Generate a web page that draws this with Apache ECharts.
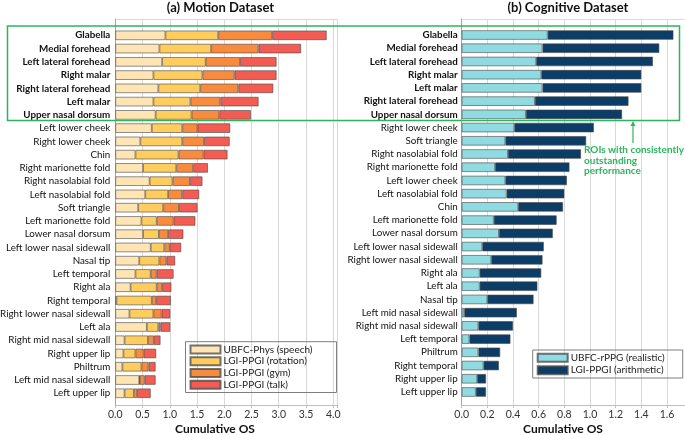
<!DOCTYPE html>
<html>
<head>
<meta charset="utf-8">
<script src="https://cdn.jsdelivr.net/npm/echarts@6/dist/echarts.min.js"></script>
<style>
html,body{margin:0;padding:0;background:#fff;}
#chart{width:685px;height:435px;}
</style>
</head>
<body>
<div id="chart"></div>
<script>
// ---- Data ----
const motionCategories = ["Glabella","Medial forehead","Left lateral forehead","Right malar","Right lateral forehead","Left malar","Upper nasal dorsum","Left lower cheek","Right lower cheek","Chin","Right marionette fold","Right nasolabial fold","Left nasolabial fold","Soft triangle","Left marionette fold","Lower nasal dorsum","Left lower nasal sidewall","Nasal tip","Left temporal","Right ala","Right temporal","Right lower nasal sidewall","Left ala","Right mid nasal sidewall","Right upper lip","Philtrum","Left mid nasal sidewall","Left upper lip"];
const ubfcPhysSpeech = [0.92,0.81,0.86,0.70,0.79,0.70,0.74,0.67,0.46,0.37,0.51,0.63,0.55,0.42,0.48,0.51,0.65,0.44,0.37,0.28,0.02,0.26,0.58,0.17,0.15,0.13,0.44,0.17];
const lgiRotation    = [0.97,0.95,0.80,0.90,0.77,0.68,0.66,0.56,0.77,0.79,0.61,0.42,0.42,0.46,0.28,0.29,0.25,0.37,0.28,0.48,0.65,0.44,0.21,0.43,0.22,0.35,0.01,0.17];
const lgiGym         = [0.99,0.87,0.63,0.59,0.70,0.55,0.51,0.28,0.40,0.46,0.31,0.32,0.26,0.29,0.31,0.17,0.10,0.13,0.11,0.10,0.08,0.15,0.04,0.11,0.15,0.13,0.09,0.06];
const lgiTalk        = [1.00,0.78,0.67,0.77,0.64,0.70,0.58,0.60,0.47,0.44,0.27,0.23,0.31,0.34,0.40,0.28,0.21,0.16,0.31,0.17,0.27,0.16,0.18,0.12,0.23,0.13,0.20,0.25];

const cognitiveCategories = ["Glabella","Medial forehead","Left lateral forehead","Right malar","Left malar","Right lateral forehead","Upper nasal dorsum","Right lower cheek","Soft triangle","Right nasolabial fold","Right marionette fold","Left lower cheek","Left nasolabial fold","Chin","Left marionette fold","Lower nasal dorsum","Left lower nasal sidewall","Right lower nasal sidewall","Right ala","Left ala","Nasal tip","Left mid nasal sidewall","Right mid nasal sidewall","Left temporal","Philtrum","Right temporal","Right upper lip","Left upper lip"];
const ubfcRealistic  = [0.67,0.63,0.58,0.62,0.63,0.57,0.50,0.41,0.34,0.36,0.26,0.34,0.35,0.44,0.25,0.29,0.16,0.23,0.14,0.14,0.20,0.02,0.13,0.06,0.13,0.17,0.12,0.11];
const lgiArithmetic  = [0.98,0.91,0.91,0.78,0.77,0.73,0.75,0.62,0.63,0.57,0.58,0.48,0.45,0.35,0.49,0.42,0.48,0.40,0.48,0.45,0.36,0.41,0.27,0.32,0.17,0.12,0.07,0.08];

const motionTicks = {min: 0, max: 4.075, interval: 0.5};
const cognitiveTicks = {min: 0, max: 1.74, interval: 0.2};
const highlightedCount = 7;

// ---- Chart ----
const FONT = 'Lato, "Open Sans", sans-serif';
const chart = echarts.init(document.getElementById('chart'), null, {renderer: 'canvas'});

function tickFmt(step) {
  return function (v) {
    const k = v / step;
    return Math.abs(k - Math.round(k)) < 1e-6 ? v.toFixed(1) : '';
  };
}
function catFmt(v, i) { return i < highlightedCount ? '{b|' + v + '}' : v; }

const frameX = (t, gi) => ({
  type: 'value', gridIndex: gi, min: t.min, max: t.max, interval: t.interval,
  axisLine: {show: true, lineStyle: {color: '#bfbfbf', width: 1}},
  axisTick: {show: true, length: 3, lineStyle: {color: '#bfbfbf'}},
  axisLabel: {show: true, formatter: tickFmt(t.interval), color: '#333', fontSize: 10.5, fontFamily: FONT, margin: 4},
  splitLine: {show: true, lineStyle: {color: '#d9d9d9', width: 1}}
});
const frameY = (gi) => ({
  type: 'value', gridIndex: gi, min: 0, max: 1, interval: 1,
  axisLine: {show: true, lineStyle: {color: '#a6a6a6', width: 1}},
  axisTick: {show: false}, axisLabel: {show: false},
  splitLine: {show: true, lineStyle: {color: '#d9d9d9', width: 1}}
});
const barX = (t, gi) => ({
  type: 'value', gridIndex: gi, min: t.min, max: t.max, show: false,
  splitLine: {show: false}
});
const barY = (cats, gi, margin) => ({
  type: 'category', gridIndex: gi, data: cats, inverse: true,
  axisLine: {show: false},
  axisTick: {show: false},
  axisLabel: {
    formatter: catFmt, color: '#111', fontSize: 9.8, fontFamily: FONT, margin: margin, interval: 0,
    rich: {b: {fontWeight: 'bold', fontSize: 9.8, color: '#111', fontFamily: FONT}}
  },
  splitLine: {show: false}
});

const border = {borderColor: 'rgba(70,70,70,0.75)', borderWidth: 0.8};
const barSeries = (name, data, color, xi, stack) => ({
  name: name, type: 'bar', stack: stack, xAxisIndex: xi, yAxisIndex: xi,
  data: data, barCategoryGap: '28%',
  itemStyle: Object.assign({color: color}, border),
  emphasis: {disabled: true}
});

const green = '#2db55d';
const gridBase = {containLabel: false, outerBoundsMode: 'none'};

const option = {
  animation: false,
  backgroundColor: '#fff',
  textStyle: {fontFamily: FONT},
  title: [
    {text: '(a) Motion Dataset', left: 220.5, top: 1, textAlign: 'center', padding: 0,
     textStyle: {fontSize: 13, fontWeight: 'bold', color: '#111', fontFamily: FONT}},
    {text: '(b) Cognitive Dataset', left: 568, top: 1, textAlign: 'center', padding: 0,
     textStyle: {fontSize: 13, fontWeight: 'bold', color: '#111', fontFamily: FONT}},
    {text: 'Cumulative OS', left: 215, top: 423, textAlign: 'center', padding: 0,
     textStyle: {fontSize: 12, fontWeight: 'bold', color: '#111', fontFamily: FONT}},
    {text: 'Cumulative OS', left: 563, top: 423, textAlign: 'center', padding: 0,
     textStyle: {fontSize: 12, fontWeight: 'bold', color: '#111', fontFamily: FONT}}
  ],
  grid: [
    Object.assign({left: 115.3, right: 347.7, top: 19, bottom: 30}, gridBase),
    Object.assign({left: 115.3, right: 347.7, top: 28.7, bottom: 35.1}, gridBase),
    Object.assign({left: 461.7, right: 0, top: 19, bottom: 30}, gridBase),
    Object.assign({left: 461.7, right: 0, top: 28.4, bottom: 36.4}, gridBase)
  ],
  xAxis: [
    frameX(motionTicks, 0), barX(motionTicks, 1),
    frameX(cognitiveTicks, 2), barX(cognitiveTicks, 3)
  ],
  yAxis: [
    frameY(0), barY(motionCategories, 1, 5),
    frameY(2), barY(cognitiveCategories, 3, 4)
  ],
  legend: [
    {
      data: ['UBFC-Phys (speech)', 'LGI-PPGI (rotation)', 'LGI-PPGI (gym)', 'LGI-PPGI (talk)'],
      orient: 'vertical', left: 185.5, top: 341.7, itemWidth: 30, itemHeight: 8, itemGap: 0,
      icon: 'rect', borderColor: '#7f7f7f', borderWidth: 1, padding: [2, 24, 2, 4],
      textStyle: {fontSize: 10, color: '#222', fontFamily: FONT, lineHeight: 11.7, padding: [0, 0, 0, -2]},
      selectedMode: false
    },
    {
      data: ['UBFC-rPPG (realistic)', 'LGI-PPGI (arithmetic)'],
      orient: 'vertical', left: 532.7, top: 350, itemWidth: 30, itemHeight: 8, itemGap: 0,
      icon: 'rect', borderColor: '#7f7f7f', borderWidth: 1, padding: [1.5, 18, 1.5, 4],
      textStyle: {fontSize: 10, color: '#222', fontFamily: FONT, lineHeight: 12.5, padding: [0, 0, 0, -2]},
      selectedMode: false
    }
  ],
  series: [
    barSeries('UBFC-Phys (speech)', ubfcPhysSpeech, '#ffe5b4', 1, 'motion'),
    barSeries('LGI-PPGI (rotation)', lgiRotation, '#ffcc5e', 1, 'motion'),
    barSeries('LGI-PPGI (gym)', lgiGym, '#f88b3d', 1, 'motion'),
    barSeries('LGI-PPGI (talk)', lgiTalk, '#f25c52', 1, 'motion'),
    barSeries('UBFC-rPPG (realistic)', ubfcRealistic, '#8fdbe1', 3, 'cognitive'),
    barSeries('LGI-PPGI (arithmetic)', lgiArithmetic, '#0b3d66', 3, 'cognitive')
  ],
  graphic: [
    {type: 'rect', silent: true, z: 100,
     shape: {x: 7.5, y: 26, width: 672, height: 94.5},
     style: {fill: 'none', stroke: green, lineWidth: 1.5}},
    {type: 'line', silent: true, z: 100,
     shape: {x1: 633, y1: 143, x2: 633, y2: 124},
     style: {stroke: green, lineWidth: 1.2}},
    {type: 'polygon', silent: true, z: 100,
     shape: {points: [[633, 121], [630.5, 126], [635.5, 126]]},
     style: {fill: green}},
    {type: 'text', silent: true, z: 100, left: 634 - 50, top: 145,
     style: {text: 'ROIs with consistently\noutstanding\nperformance', fill: green,
             font: 'bold 10px ' + FONT, align: 'center', lineHeight: 10.5, width: 100}}
  ]
};
chart.setOption(option);
</script>
</body>
</html>
